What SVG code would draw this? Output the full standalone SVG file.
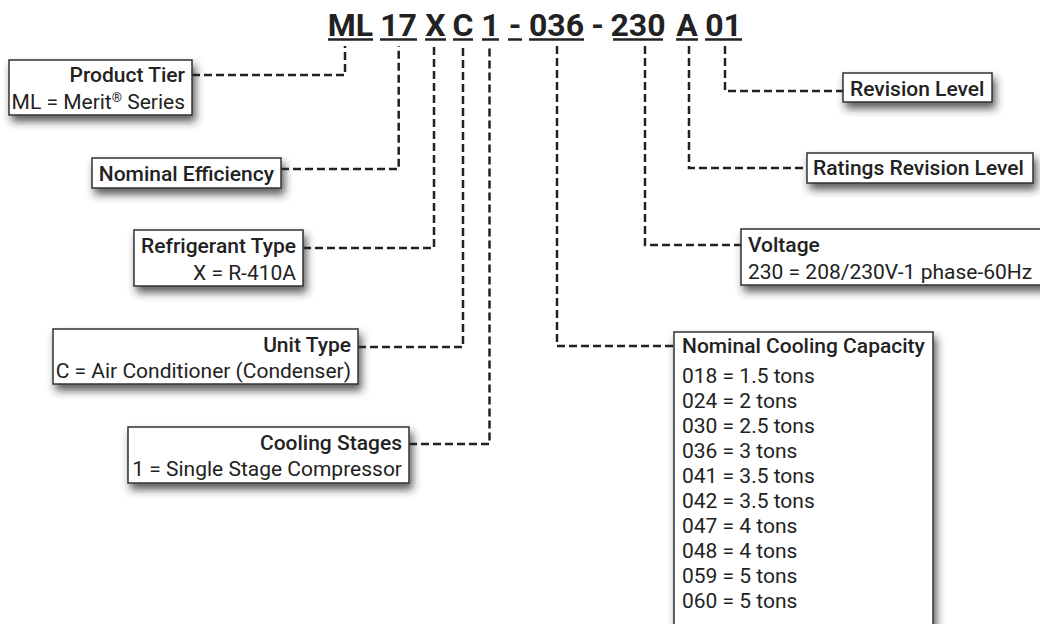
<svg xmlns="http://www.w3.org/2000/svg" width="1040" height="624" viewBox="0 0 1040 624">
<defs>
<filter id="sh" x="-20%" y="-30%" width="140%" height="180%">
<feDropShadow dx="3" dy="6" stdDeviation="4" flood-color="#2a2a2a" flood-opacity="0.75"/>
</filter>
<style>
.box{fill:#fff;stroke:#333;stroke-width:1.5;filter:url(#sh)}
.h{font-family:Roboto,"Liberation Sans",sans-serif;font-size:21px;font-weight:500;fill:#222}
.t{font-family:Roboto,"Liberation Sans",sans-serif;font-size:21px;font-weight:400;fill:#222}
.e{text-anchor:end}
.title{font-family:Roboto,"Liberation Sans",sans-serif;font-size:32px;font-weight:700;fill:#222;text-anchor:middle}
.ul{stroke:#222;stroke-width:2.5}
.c{fill:none;stroke:#222;stroke-width:2.5;stroke-dasharray:8 4}
</style>
</defs>
<rect width="1040" height="624" fill="#fff"/>
<g id="title">
<text class="title" x="350.5" y="36">ML</text>
<text class="title" x="398.5" y="36">17</text>
<text class="title" x="435.5" y="36">X</text>
<text class="title" x="463" y="36">C</text>
<text class="title" x="490.5" y="36">1</text>
<text class="title" x="515" y="36">-</text>
<text class="title" x="556.5" y="36">036</text>
<text class="title" x="597.5" y="36">-</text>
<text class="title" x="638" y="36">230</text>
<text class="title" x="687" y="36">A</text>
<text class="title" x="723.5" y="36">01</text>
<line class="ul" x1="328" y1="39.5" x2="373" y2="39.5"/>
<line class="ul" x1="380" y1="39.5" x2="417" y2="39.5"/>
<line class="ul" x1="425" y1="39.5" x2="446" y2="39.5"/>
<line class="ul" x1="453" y1="39.5" x2="473" y2="39.5"/>
<line class="ul" x1="482" y1="39.5" x2="499" y2="39.5"/>
<line class="ul" x1="508" y1="39.5" x2="522" y2="39.5"/>
<line class="ul" x1="529" y1="39.5" x2="584" y2="39.5"/>
<line class="ul" x1="613" y1="39.5" x2="663" y2="39.5"/>
<line class="ul" x1="676" y1="39.5" x2="698" y2="39.5"/>
<line class="ul" x1="705" y1="39.5" x2="742" y2="39.5"/>
</g>
<g id="connectors">
<polyline class="c" points="192,75 345,75 345,46"/>
<polyline class="c" points="281,169 398.7,169 398.7,46"/>
<polyline class="c" points="303,248 434,248 434,46"/>
<polyline class="c" points="358,347 463,347 463,46"/>
<polyline class="c" points="409,444 489.5,444 489.5,46"/>
<polyline class="c" points="557,46 557,346 674,346"/>
<polyline class="c" points="645,46 645,245 741,245"/>
<polyline class="c" points="689,46 689,168 807,168"/>
<polyline class="c" points="725,46 725,91 843,91"/>
</g>
<g id="product-tier">
<rect class="box" x="9" y="60" width="183" height="55"/>
<text class="h e" x="185" y="82">Product Tier</text>
<text class="t e" x="185" y="109">ML = Merit<tspan font-size="13" dy="-7">®</tspan><tspan dy="7"> Series</tspan></text>
</g>
<g id="nominal-efficiency">
<rect class="box" x="92" y="158" width="189" height="30"/>
<text class="h e" x="274" y="181">Nominal Efficiency</text>
</g>
<g id="refrigerant-type">
<rect class="box" x="134" y="230" width="169" height="56"/>
<text class="h e" x="296" y="253">Refrigerant Type</text>
<text class="t e" x="296" y="280">X = R-410A</text>
</g>
<g id="unit-type">
<rect class="box" x="53" y="329" width="305" height="55"/>
<text class="h e" x="351" y="352">Unit Type</text>
<text class="t e" x="351" y="378">C = Air Conditioner (Condenser)</text>
</g>
<g id="cooling-stages">
<rect class="box" x="128" y="427" width="281" height="56"/>
<text class="h e" x="402" y="450">Cooling Stages</text>
<text class="t e" x="402" y="476">1 = Single Stage Compressor</text>
</g>
<g id="revision-level">
<rect class="box" x="843" y="73" width="149" height="29"/>
<text class="h" x="850" y="96">Revision Level</text>
</g>
<g id="ratings-revision-level">
<rect class="box" x="807" y="153" width="226" height="30"/>
<text class="h" x="813" y="175">Ratings Revision Level</text>
</g>
<g id="voltage">
<rect class="box" x="741" y="229" width="310" height="56"/>
<text class="h" x="748" y="252">Voltage</text>
<text class="t" x="748" y="279">230 = 208/230V-1 phase-60Hz</text>
</g>
<g id="nominal-cooling-capacity">
<rect class="box" x="674" y="332" width="259" height="310"/>
<text class="h" x="682" y="353">Nominal Cooling Capacity</text>
<text class="t" x="682" y="383">018 = 1.5 tons</text>
<text class="t" x="682" y="408">024 = 2 tons</text>
<text class="t" x="682" y="433">030 = 2.5 tons</text>
<text class="t" x="682" y="458">036 = 3 tons</text>
<text class="t" x="682" y="483">041 = 3.5 tons</text>
<text class="t" x="682" y="508">042 = 3.5 tons</text>
<text class="t" x="682" y="533">047 = 4 tons</text>
<text class="t" x="682" y="558">048 = 4 tons</text>
<text class="t" x="682" y="583">059 = 5 tons</text>
<text class="t" x="682" y="608">060 = 5 tons</text>
</g>
</svg>
